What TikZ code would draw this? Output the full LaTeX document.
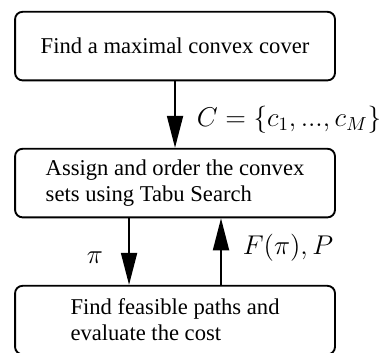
\documentclass[tikz,border=0pt]{standalone}
\usepackage{amsmath}
\usepackage{fontspec}
\setmainfont{Liberation Serif}
\usepackage{tikz}
\usetikzlibrary{arrows.meta}

\begin{document}
\begin{tikzpicture}[>={Triangle[length=17pt,width=8.5pt]}]
  \useasboundingbox (0,0) rectangle (7.24,6.57);
  \tikzset{stepbox/.style={draw,rounded corners=4pt,line width=1pt,minimum width=5.97cm,minimum height=1.28cm,align=left,font=\fontsize{12}{13.8}\selectfont},
    flowlbl/.style={font=\fontsize{14}{16}\selectfont}}
  \node[stepbox] (cover) at (3.266,5.710) {Find a maximal convex cover};
  \node[stepbox] (tabu) at (3.266,3.154) {Assign and order the convex\\sets using Tabu Search};
  \node[stepbox] (paths) at (3.266,0.597) {Find feasible paths and\\evaluate the cost};
  \draw[->, line width=1pt] (cover) -- (tabu);
  \draw[->, line width=1pt] ([xshift=-0.858cm]tabu.south) -- ([xshift=-0.858cm]paths.north);
  \draw[->, line width=1pt] ([xshift=0.858cm]paths.north) -- ([xshift=0.858cm]tabu.south);
  \node[flowlbl] (setlbl) at (5.393,4.329) {$C=\{c_1,...,c_M\}$};
  \node[flowlbl] (pilbl) at (1.773,1.754) {$\pi$};
  \node[flowlbl] (costlbl) at (5.374,1.940) {$F(\pi),P$};
\end{tikzpicture}
\end{document}
